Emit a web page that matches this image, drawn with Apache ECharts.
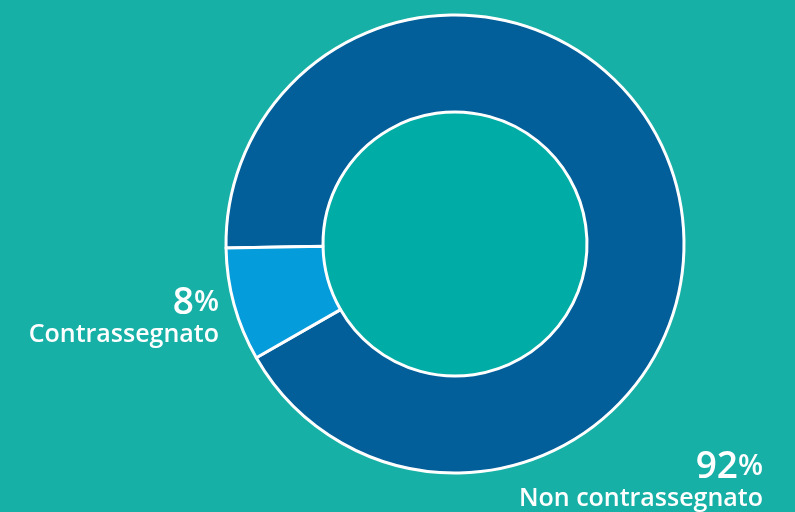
<!DOCTYPE html>
<html><head><meta charset="utf-8">
<script src="https://cdn.jsdelivr.net/npm/echarts@6/dist/echarts.min.js"></script>
<style>html,body{margin:0;padding:0;background:#17b0a7;}#c{width:795px;height:512px;}</style>
</head><body><div id="c"></div>
<script>
const categories = ['Non contrassegnato', 'Contrassegnato'];
const values = [92, 8];
const colors = ['#025f99', '#059cdc'];
const labelPos = [[763, 482], [219, 318]];

const chart = echarts.init(document.getElementById('c'));
const F = '"Open Sans", sans-serif';
chart.setOption({
  backgroundColor: '#17b0a7',
  animation: false,
  series: [
    {
      type: 'pie', silent: true, center: [454, 244], radius: [0, 132],
      label: {show: false}, labelLine: {show: false},
      itemStyle: {color: '#00ada6'},
      data: [{value: 1, name: 'inner'}]
    },
    {
      type: 'pie',
      center: [455, 244],
      radius: [132, 229],
      startAngle: 181,
      clockwise: true,
      avoidLabelOverlap: false,
      itemStyle: {borderColor: '#ffffff', borderWidth: 3},
      labelLine: {show: false},
      label: {
        show: true,
        position: 'outside',
        formatter: p => '{v|' + p.value + '}{p|%}\n{n|' + p.name + '}',
        align: 'right',
        rich: {
          v: {fontFamily: F, fontWeight: 600, fontSize: 37, color: '#fff', lineHeight: 34, align: 'right'},
          p: {fontFamily: F, fontWeight: 600, fontSize: 29, color: '#fff', lineHeight: 34, align: 'right'},
          n: {fontFamily: F, fontWeight: 600, fontSize: 25, color: '#fff', lineHeight: 30, align: 'right'}
        }
      },
      labelLayout: function (params) {
        const i = params.dataIndex;
        return {x: labelPos[i][0], y: labelPos[i][1], align: 'right', verticalAlign: 'middle'};
      },
      data: categories.map((c, i) => ({name: c, value: values[i], itemStyle: {color: colors[i]}}))
    }
  ]
});
</script></body></html>
